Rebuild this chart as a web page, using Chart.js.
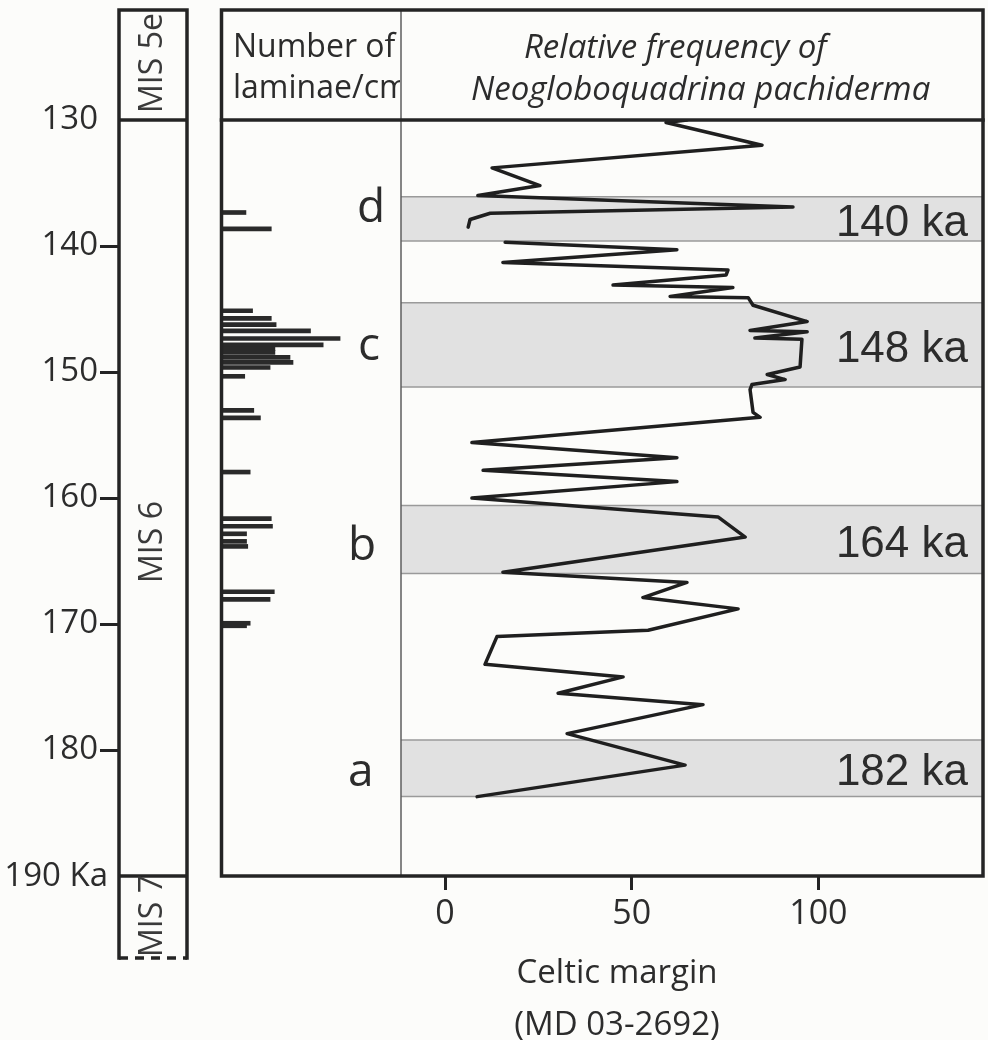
<!DOCTYPE html>
<html>
<head>
<meta charset="utf-8">
<script src="https://cdn.jsdelivr.net/npm/chart.js@4.4.1/dist/chart.umd.min.js"></script>
<style>
  html, body { margin: 0; padding: 0; background: #fcfcfa; }
</style>
</head>
<body>
<canvas id="chart" width="988" height="1040"></canvas>
<script>
"use strict";

// age axis (ka)
const ageTicks = [130, 140, 150, 160, 170, 180, 190];
const freqTicks = [0, 50, 100];

// number of laminae per cm
const laminaeAges = [137.5, 138.8, 145.3, 145.9, 146.4, 146.9, 147.5, 148.0, 148.3, 148.6, 149.0, 149.4, 149.8, 150.5,
  153.2, 153.8, 158.1, 161.8, 162.4, 163.0, 163.6, 164.0, 167.6, 168.2, 170.1, 170.3];
const laminaeCounts = [4.3, 8.5, 5.4, 8.5, 9.3, 15.0, 19.9, 17.1, 9.1, 9.1, 11.6, 12.1, 8.3, 4.1,
  5.6, 6.7, 5.0, 8.5, 8.7, 4.4, 4.4, 4.6, 9.0, 8.3, 5.0, 4.4];

// relative frequency of N. pachyderma (%), null = no data
const freqAges = [130.0, 130.2, 132.0, 133.8, 135.2, 136.0, 136.9, 137.4, 137.9, 138.5, 139.1, 139.7, 140.3, 141.3,
  141.9, 142.3, 143.1, 143.3, 144.0, 144.1, 144.7, 146.0, 146.7, 146.8, 147.3, 147.4, 149.6, 150.2, 150.6, 151.0,
  151.4, 153.2, 153.6, 155.6, 156.8, 157.8, 158.7, 160.0, 161.5, 163.1, 165.9, 166.7, 167.9, 168.8, 170.5, 171.0,
  173.2, 174.2, 175.5, 176.4, 178.7, 181.2, 183.7];
const freqValues = [64.8, 59.2, 84.9, 12.6, 25.4, 8.8, 93.2, 12.1, 6.7, 6.2, null, 16.1, 62.1, 15.5,
  75.8, 75.3, 45.0, 77.1, 60.3, 81.2, 82.5, 97.0, 81.7, 97.0, 83.0, 95.6, 95.1, 86.3, 91.1, 82.2,
  81.7, 82.5, 84.4, 7.2, 62.1, 10.2, 62.1, 7.2, 73.1, 80.4, 15.5, 64.8, 53.0, 78.5, 54.4, 13.9,
  10.7, 47.7, 30.3, 69.1, 32.7, 64.3, 8.6];

// grey intervals
const bandLetters = ["d", "c", "b", "a"];
const bandLabels = ["140 ka", "148 ka", "164 ka", "182 ka"];
const bandStart = [136.1, 144.5, 160.6, 179.2];
const bandEnd = [139.6, 151.2, 166.0, 183.7];

const misNames = ["MIS 5e", "MIS 6", "MIS 7"];

// layout
const ink = "#242424";
const textInk = "#2c2c2c";
const sans = "'Open Sans', 'Noto Sans', sans-serif";
const helv = "'Liberation Sans', Arial, sans-serif";
const frameTop = 10;
const misBottom = 958;
const axisBand = 164;
const misLabelY = [63, 542, 916];
const letterPos = [[357, 222], [358, 360], [348, 560], [348, 786]];

Chart.defaults.font.family = sans;
Chart.defaults.color = textInk;

const overlay = {
  id: "overlay",
  beforeDraw(chart) {
    const { ctx, width, height } = chart;
    ctx.save();
    ctx.fillStyle = "#fcfcfa";
    ctx.fillRect(0, 0, width, height);
    ctx.restore();
  },
  beforeDatasetsDraw(chart) {
    const { ctx, scales } = chart;
    const fx = scales.xFreq;
    const y = scales.y;

    ctx.save();
    bandStart.forEach((start, i) => {
      const top = y.getPixelForValue(start);
      const bottom = y.getPixelForValue(bandEnd[i]);

      ctx.fillStyle = "#e1e1e1";
      ctx.fillRect(fx.left, top, fx.right - fx.left, bottom - top);
      ctx.strokeStyle = "#9a9a9a";
      ctx.lineWidth = 1.5;
      ctx.beginPath();
      ctx.moveTo(fx.left, top);
      ctx.lineTo(fx.right, top);
      ctx.moveTo(fx.left, bottom);
      ctx.lineTo(fx.right, bottom);
      ctx.stroke();
    });
    ctx.restore();
  },
  afterDatasetsDraw(chart) {
    const { ctx, scales, chartArea } = chart;
    const fx = scales.xFreq;
    const lx = scales.xLam;
    const mx = scales.xMis;
    const y = scales.y;
    const left = lx.left + 1.5;
    const bottom = chartArea.bottom;

    ctx.save();
    ctx.lineCap = "square";

    // divider between the two panels
    ctx.strokeStyle = "#5e5e5e";
    ctx.lineWidth = 1.5;
    ctx.beginPath();
    ctx.moveTo(fx.left, frameTop);
    ctx.lineTo(fx.left, bottom);
    ctx.stroke();

    // main frame and header line
    ctx.strokeStyle = ink;
    ctx.lineWidth = 3.5;
    ctx.strokeRect(left, frameTop, fx.right - left, bottom - frameTop);
    ctx.beginPath();
    ctx.moveTo(left, chartArea.top);
    ctx.lineTo(fx.right, chartArea.top);
    ctx.stroke();

    // MIS column
    const lastAge = ageTicks[ageTicks.length - 1];
    const y130 = y.getPixelForValue(ageTicks[0]);
    const y190 = y.getPixelForValue(lastAge);
    ctx.beginPath();
    ctx.moveTo(mx.left, misBottom);
    ctx.lineTo(mx.left, frameTop);
    ctx.lineTo(mx.right, frameTop);
    ctx.lineTo(mx.right, misBottom);
    ctx.moveTo(mx.left, y130);
    ctx.lineTo(mx.right, y130);
    ctx.moveTo(mx.left, y190);
    ctx.lineTo(mx.right, y190);
    ctx.stroke();
    ctx.lineCap = "butt";
    ctx.setLineDash([9, 7]);
    ctx.beginPath();
    ctx.moveTo(mx.left, misBottom);
    ctx.lineTo(mx.right, misBottom);
    ctx.stroke();
    ctx.setLineDash([]);

    ctx.fillStyle = "#3a3a3a";
    ctx.font = "32px " + sans;
    ctx.textAlign = "center";
    ctx.textBaseline = "middle";
    misNames.forEach((name, i) => {
      ctx.save();
      ctx.translate((mx.left + mx.right) / 2, misLabelY[i]);
      ctx.rotate(-Math.PI / 2);
      ctx.fillText(name, 0, 0);
      ctx.restore();
    });

    // last age label sits against the MIS 6/7 boundary
    ctx.fillStyle = textInk;
    ctx.font = "33px " + sans;
    ctx.textAlign = "right";
    ctx.fillText(lastAge + " Ka", mx.left - 11, y190 + 1);

    // headers
    ctx.textAlign = "left";
    ctx.textBaseline = "alphabetic";
    ctx.save();
    ctx.beginPath();
    ctx.rect(left, frameTop, fx.left - left - 1, chartArea.top - frameTop);
    ctx.clip();
    ctx.font = "32px " + sans;
    ctx.fillText("Number of", 233, 57);
    ctx.fillText("laminae/cm", 233, 98);
    ctx.restore();
    ctx.font = "italic 33px " + sans;
    ctx.fillText("Relative frequency of", 524, 58);
    ctx.fillText("Neogloboquadrina pachiderma", 471, 100);

    // interval letters
    ctx.font = "46px " + sans;
    bandLetters.forEach((letter, i) => {
      ctx.fillText(letter, letterPos[i][0], letterPos[i][1]);
    });

    // interval ages
    ctx.font = "44px " + helv;
    ctx.textAlign = "right";
    bandLabels.forEach((label, i) => {
      const mid = (y.getPixelForValue(bandStart[i]) + y.getPixelForValue(bandEnd[i])) / 2;
      ctx.fillText(label, fx.right - 15, mid + 17);
    });

    // core name under the axis
    ctx.font = "33px " + sans;
    ctx.textAlign = "center";
    ctx.fillText("Celtic margin", 617, 983);
    ctx.fillText("(MD 03-2692)", 617, 1035);
    ctx.restore();
  }
};

function rowScale(weight, extra) {
  return Object.assign({
    type: "linear",
    axis: "x",
    position: "bottom",
    stack: "row",
    stackWeight: weight,
    offset: false,
    display: false,
    grid: { offset: false },
    afterFit: scale => { scale.height = axisBand; }
  }, extra);
}

const ctx = document.getElementById("chart").getContext("2d");
const chart = new Chart(ctx, {
  type: "bar",
  data: {
    datasets: [
      {
        type: "bar",
        indexAxis: "y",
        xAxisID: "xLam",
        yAxisID: "y",
        data: laminaeAges.map((age, i) => ({ x: laminaeCounts[i], y: age })),
        backgroundColor: "#2a2a2a",
        borderWidth: 0,
        barThickness: 4
      },
      {
        type: "line",
        indexAxis: "y",
        xAxisID: "xFreq",
        yAxisID: "y",
        data: freqAges.map((age, i) => ({ x: freqValues[i], y: age })),
        borderColor: "#1f1f1f",
        borderWidth: 3.5,
        borderJoinStyle: "round",
        borderCapStyle: "round",
        pointRadius: 0,
        tension: 0,
        spanGaps: false,
        fill: false
      }
    ]
  },
  options: {
    responsive: false,
    animation: false,
    layout: { padding: { top: 120, left: 0, right: 5, bottom: 0 } },
    plugins: { legend: { display: false }, tooltip: { enabled: false } },
    scales: {
      y: {
        type: "linear",
        position: "left",
        reverse: true,
        min: 130,
        max: 190,
        offset: false,
        afterFit: scale => { scale.width = 119; },
        afterBuildTicks: scale => { scale.ticks = ageTicks.map(v => ({ value: v })); },
        border: { display: false },
        grid: {
          offset: false,
          drawOnChartArea: false,
          drawTicks: true,
          tickLength: 19,
          lineWidth: 3,
          color: c => (c.tick && (c.tick.value === 130 || c.tick.value === 190)) ? "rgba(0,0,0,0)" : ink
        },
        ticks: {
          padding: 2,
          font: { size: 33 },
          color: textInk,
          callback: v => (v === 190 ? "" : String(v))
        }
      },
      xMis: rowScale(68),
      xGap: rowScale(33),
      xLam: rowScale(181, { min: 0, max: 30 }),
      xFreq: rowScale(582, {
        min: -11.8,
        max: 144.1,
        display: true,
        afterBuildTicks: scale => { scale.ticks = freqTicks.map(v => ({ value: v })); },
        border: { display: false },
        grid: {
          offset: false,
          drawOnChartArea: false,
          drawTicks: true,
          tickLength: 14,
          lineWidth: 3,
          color: ink
        },
        ticks: { padding: 4, maxRotation: 0, autoSkip: false, font: { size: 34 }, color: textInk }
      })
    }
  },
  plugins: [overlay]
});
</script>
</body>
</html>
